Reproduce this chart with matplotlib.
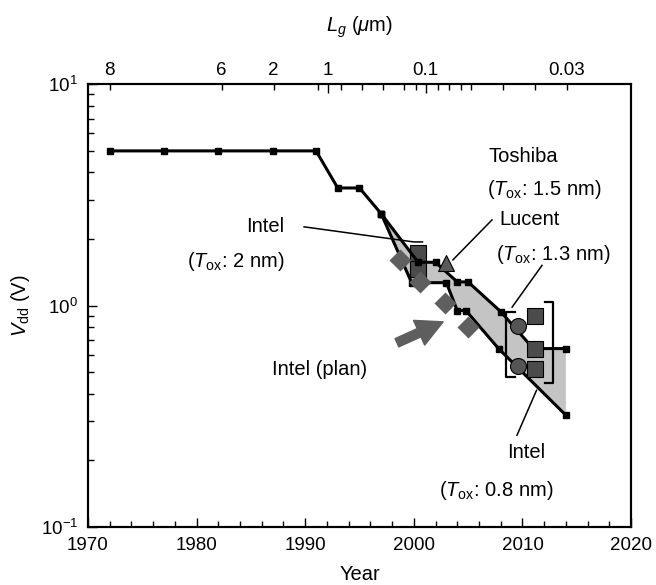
import matplotlib.pyplot as plt
from matplotlib.ticker import FixedLocator, NullFormatter, LogLocator

plt.rcParams["font.family"] = ["Liberation Sans", "DejaVu Sans"]
plt.rcParams["mathtext.fontset"] = "custom"
plt.rcParams["mathtext.rm"] = "Liberation Sans"
plt.rcParams["mathtext.it"] = "Liberation Sans:italic"

# supply voltage history (single curve up to 1997)
hist_year = [1972, 1977, 1982, 1987, 1991, 1993, 1995, 1997]
hist_vdd = [5.0, 5.0, 5.0, 5.0, 5.0, 3.4, 3.4, 2.6]

# roadmap band after 1997: upper and lower bounds
upper_year = [1997, 2000.4, 2002, 2004, 2005, 2008, 2011, 2014]
upper_vdd = [2.6, 1.57, 1.57, 1.28, 1.28, 0.94, 0.64, 0.64]
lower_year = [1997, 1999.8, 2003, 2004, 2004.8, 2007.8, 2014]
lower_vdd = [2.6, 1.27, 1.27, 0.95, 0.95, 0.64, 0.32]

# reported devices
intel_year = [2000.4, 2000.4]
intel_vdd = [1.73, 1.46]
toshiba_year = [2003.0]
toshiba_vdd = [1.56]
plan_year = [1998.7, 2000.6, 2002.9, 2005.0]
plan_vdd = [1.61, 1.28, 1.03, 0.80]
lucent_year = [2009.6, 2009.6]
lucent_vdd = [0.81, 0.535]
intel08_year = [2011.2, 2011.2, 2011.2]
intel08_vdd = [0.90, 0.64, 0.52]

# gate length scale on top
lg_major_year = [1992.1, 2001.1]
lg_major_labels = ["1", "0.1"]
lg_minor_year = [1972, 1982.3, 1987.1, 1991.2, 1993.3, 1995.2, 1997.2, 1999.1,
                 2000.2, 2002.2, 2003.2, 2004.3, 2005.3, 2008.2, 2011.2, 2014.1]
lg_minor_labels = ["8", "6", "2", "", "", "", "", "", "", "", "", "", "", "", "", "0.03"]

fig, ax = plt.subplots(figsize=(6.56, 5.85), dpi=100)
fig.subplots_adjust(left=0.134, right=0.962, bottom=0.099, top=0.856)

ax.set_yscale("log")
ax.set_xlim(1970, 2020)
ax.set_ylim(0.1, 10)

# shaded roadmap band
band_x = upper_year + lower_year[::-1]
band_y = upper_vdd + lower_vdd[::-1]
ax.fill(band_x, band_y, color="#c4c4c4", lw=0, zorder=1)

ax.plot(intel_year, intel_vdd, "s", ms=12, mfc="#4b4b4b", mec="black", mew=0.8, zorder=2)

line_kw = dict(color="black", lw=2.2, marker="s", ms=4.5, mfc="black", mec="black", zorder=3)
ax.plot(hist_year, hist_vdd, **line_kw)
ax.plot(upper_year, upper_vdd, **line_kw)
ax.plot(lower_year, lower_vdd, **line_kw)

ax.plot(plan_year, plan_vdd, "D", ms=11.7, mfc="#5f5f5f", mec="none", zorder=4)
ax.plot(toshiba_year, toshiba_vdd, "^", ms=12, mfc="#5a5a5a", mec="black", mew=0.8, zorder=4)
ax.plot(lucent_year, lucent_vdd, "o", ms=11.5, mfc="#555555", mec="black", mew=0.8, zorder=4)
ax.plot(intel08_year, intel08_vdd, "s", ms=12, mfc="#4b4b4b", mec="black", mew=0.8, zorder=4)

# brackets around the 2009-2011 groups
ax.plot([2009.3, 2008.5, 2008.5, 2009.3], [0.94, 0.94, 0.476, 0.476], color="black", lw=1.6, zorder=4)
ax.plot([2012.1, 2012.8, 2012.8, 2012.1], [1.04, 1.04, 0.446, 0.446], color="black", lw=1.6, zorder=4)

# leader lines
lead = dict(color="black", lw=1.1, zorder=5)
ax.plot([1989.9, 2000.0, 2000.8], [2.27, 1.94, 1.94], **lead)
ax.plot([2007.2, 2003.6], [2.44, 1.61], **lead)
ax.plot([2011.8, 2009.05], [1.52, 0.985], **lead)
ax.plot([2009.5, 2011.3], [0.26, 0.415], **lead)

ax.annotate("", xy=(2002.7, 0.845), xytext=(1998.45, 0.68),
            arrowprops=dict(arrowstyle="simple,head_length=1.9,head_width=1.95,tail_width=0.65",
                            color="#5e5e5e", shrinkA=0, shrinkB=0, mutation_scale=10))

ann = dict(fontsize=14.5)
ax.text(1988.1, 2.27, "Intel", ha="right", va="center", **ann)
ax.text(1988.1, 1.59, r"($T_{\rm ox}$: 2 nm)", ha="right", va="center", **ann)
ax.text(2006.9, 4.70, "Toshiba", ha="left", va="center", **ann)
ax.text(2006.7, 3.33, r"($T_{\rm ox}$: 1.5 nm)", ha="left", va="center", **ann)
ax.text(2007.9, 2.44, "Lucent", ha="left", va="center", **ann)
ax.text(2007.6, 1.71, r"($T_{\rm ox}$: 1.3 nm)", ha="left", va="center", **ann)
ax.text(1986.95, 0.516, "Intel (plan)", ha="left", va="center", **ann)
ax.text(2008.6, 0.217, "Intel", ha="left", va="center", **ann)
ax.text(2002.3, 0.147, r"($T_{\rm ox}$: 0.8 nm)", ha="left", va="center", **ann)

# axes styling
for s in ax.spines.values():
    s.set_linewidth(1.5)
ax.set_xticks(range(1970, 2021, 10))
ax.set_xticks(range(1970, 2021, 2), minor=True)
ax.yaxis.set_major_locator(FixedLocator([0.1, 1, 10]))
ax.set_yticklabels([r"$10^{-1}$", r"$10^{0}$", r"$10^{1}$"])
ax.yaxis.set_minor_locator(LogLocator(base=10, subs=range(2, 10)))
ax.yaxis.set_minor_formatter(NullFormatter())
ax.tick_params(which="both", direction="in", top=False, right=False, labelsize=13.5, width=1)
ax.tick_params(which="major", length=6.5)
ax.tick_params(which="minor", length=4)
ax.tick_params(axis="x", pad=7)
ax.tick_params(axis="y", pad=7)

ax.set_xlabel("Year", fontsize=14.5, labelpad=8)
ax.set_ylabel(r"$V_{\rm dd}$ (V)", fontsize=14.5, labelpad=6)

ax2 = ax.twiny()
ax2.set_xlim(ax.get_xlim())
ax2.set_xticks(lg_major_year, lg_major_labels)
ax2.set_xticks(lg_minor_year, lg_minor_labels, minor=True)
ax2.tick_params(which="both", direction="in", labelsize=13.5, width=1)
ax2.tick_params(which="major", length=6.5, pad=3.5)
ax2.tick_params(which="minor", length=4, pad=3.5)
for s in ax2.spines.values():
    s.set_linewidth(1.5)
ax2.set_xlabel(r"$L_g$ ($\mu$m)", fontsize=14.5, labelpad=22)

fig.savefig("out.png", dpi=100)
